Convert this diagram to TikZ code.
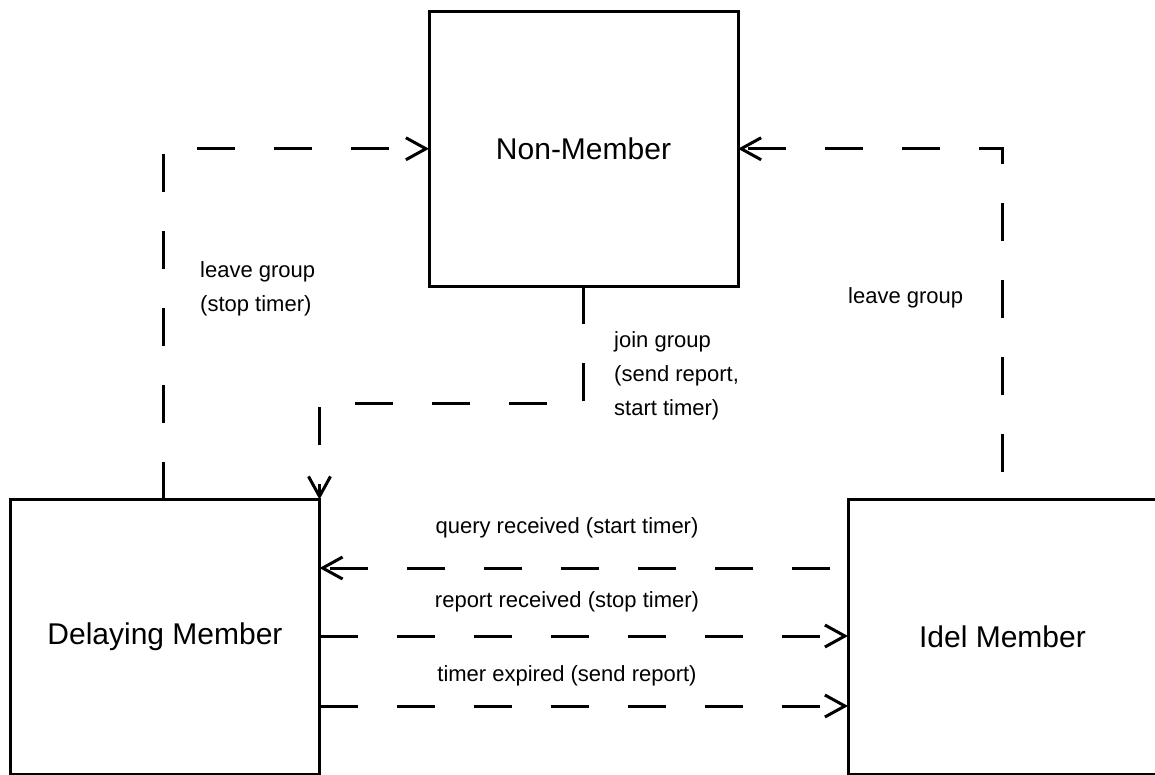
\documentclass[tikz,border=0pt]{standalone}
\usepackage{fontspec}
\setmainfont{Liberation Sans}
\usetikzlibrary{arrows.meta}
\begin{document}
\begin{tikzpicture}[x=1pt,y=-1pt,
  state/.style={draw, line width=3pt, minimum width=309pt, minimum height=274.5pt,
    inner sep=0pt, outer sep=0pt, font=\fontsize{30}{36}\selectfont},
  conn/.style={draw, line width=3pt, dash pattern=on 38pt off 39pt, line join=miter,
    -{Straight Barb[length=20pt,width=22pt]}},
  lbl/.style={inner sep=0pt, align=left, font=\fontsize{22}{34}\selectfont}
]
\useasboundingbox (0,0) rectangle (1155,774);

% states
\node[state] (nm) at (583.5,148.75) {Non-Member};
\node[state] (dm) at (165,636.75) {Delaying Member};
\node[state] (im) at (1002.5,636.75) {Idel Member};

% helper points for the routed connectors
\coordinate (lx) at (163,148);
\coordinate (jn) at (319.5,403);
\coordinate (yq) at (0,568);
\coordinate (yr) at (0,636);
\coordinate (yt) at (0,706);

% leave group (from delaying member)
\draw[conn] (dm.north -| lx) |- (nm.west);
% leave group (from idle member)
\draw[conn, dash phase=49pt] (im.north) |- (nm.east);
% join group
\draw[conn] (nm.south) |- (jn) -- (dm.north east);
% query received
\draw[conn, dash phase=59pt] (im.west |- yq) -- (dm.east |- yq);
% report received
\draw[conn] (dm.east |- yr) -- (im.west |- yr);
% timer expired
\draw[conn] (dm.east |- yt) -- (im.west |- yt);

% transition labels
\node[lbl, anchor=west] (l1) at (200,289) {leave group\\(stop timer)};
\node[lbl, anchor=west] (l2) at (848,298) {leave group};
\node[lbl, anchor=west] (l3) at (614,376) {join group\\(send report,\\start timer)};
\node[lbl] (l4) at (567,528) {query received (start timer)};
\node[lbl] (l5) at (567,602) {report received (stop timer)};
\node[lbl] (l6) at (567,676) {timer expired (send report)};
\end{tikzpicture}
\end{document}
